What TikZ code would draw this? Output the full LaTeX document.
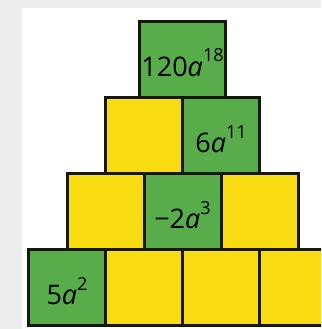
\documentclass[tikz,border=0pt]{standalone}
\usepackage{fontspec}
\setmainfont{Open Sans}
\usetikzlibrary{positioning}

\definecolor{blockgreen}{HTML}{58AC4A}
\definecolor{blockyellow}{HTML}{F9DB12}
\definecolor{blockline}{HTML}{17170F}

% term: coefficient, a, exponent
\newcommand{\term}[2]{#1\textit{a}\raisebox{14pt}{\fontsize{18}{22}\selectfont #2}}

\begin{document}
\begin{tikzpicture}[
    x=1pt, y=-1pt,
    every node/.style={
        draw=blockline,
        line width=3pt,
        outer sep=0pt,
        inner sep=0pt,
        minimum width=77pt,
        minimum height=76pt,
        text height=33pt,
        text depth=0pt,
        font=\fontsize{27}{32}\selectfont
    },
    yel/.style={fill=blockyellow},
    grn/.style={fill=blockgreen}
]

% ------------------------
% Background
% ------------------------
\fill[gray!14] (0,0) rectangle (321,329);
\fill[white] (22,8) rectangle (321,329);
\useasboundingbox (0,0) rectangle (321,329);
\clip (0,0) rectangle (321,329);

% ------------------------
% Bottom row
% ------------------------
\node[grn, anchor=south west] (r4a) at (28.5,325.5) {\term{5}{2}};
\node[yel, right=0pt of r4a] (r4b) {};
\node[yel, right=0pt of r4b] (r4c) {};
\node[yel, right=0pt of r4c] (r4d) {};

% ------------------------
% Third row
% ------------------------
\node[yel, anchor=south west] (r3a) at (r4a.north) {};
\node[grn, right=0pt of r3a] (r3b) {\term{−2}{3}};
\node[yel, right=0pt of r3b] (r3c) {};

% ------------------------
% Second row
% ------------------------
\node[yel, anchor=south west] (r2a) at (r3a.north) {};
\node[grn, right=0pt of r2a] (r2b) {\term{6}{11}};

% ------------------------
% Top block
% ------------------------
\node[grn, minimum width=86pt, anchor=south] (top) at (r2a.north east) {\term{120}{18}};

\end{tikzpicture}
\end{document}
